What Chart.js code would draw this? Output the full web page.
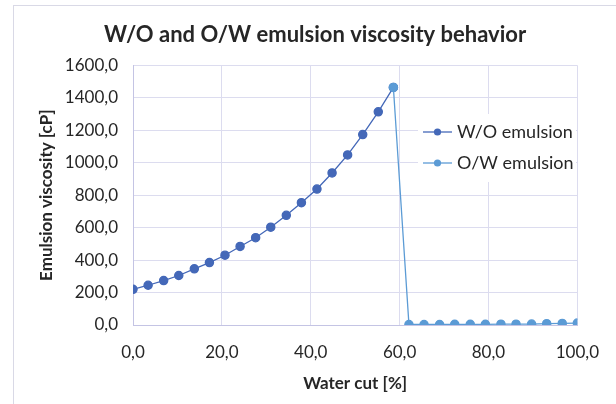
<!DOCTYPE html>
<html>
<head>
<meta charset="utf-8">
<script src="https://cdn.jsdelivr.net/npm/chart.js@4.4.1/dist/chart.umd.min.js"></script>
<style>
  html, body { margin: 0; padding: 0; background: #fff; }
  #wrap { width: 616px; height: 404px; position: relative; }
</style>
</head>
<body>
<div id="wrap"><canvas id="viscChart" width="616" height="404"></canvas></div>
<script>
// Data
const woWaterCut = [0, 3.4, 6.9, 10.3, 13.8, 17.2, 20.7, 24.1, 27.6, 31.0, 34.5, 37.9, 41.4, 44.8, 48.3, 51.7, 55.2, 58.6];
const woViscosity = [220, 245, 274, 305, 346, 385, 430, 484, 538, 603, 676, 754, 838, 937, 1048, 1174, 1314, 1464];
const owWaterCut = [58.6, 62.1, 65.5, 69.0, 72.4, 75.9, 79.3, 82.8, 86.2, 89.7, 93.1, 96.6, 100];
const owViscosity = [1464, 3, 3, 3, 4, 4, 4, 5, 5, 6, 8, 10, 12];
const xTicks = [0, 20, 40, 60, 80, 100];
const yTicks = [0, 200, 400, 600, 800, 1000, 1200, 1400, 1600];

const FONT = 'Lato, "Liberation Sans", sans-serif';
const WO_COLOR = '#4468b8';
const OW_COLOR = '#5b9bd5';

const toPoints = (xs, ys) => xs.map((x, i) => ({ x: x, y: ys[i] }));
const fmt = v => Number(v).toFixed(1).replace('.', ',');

// chart frame + legend laid over the plot (Excel style)
const framePlugin = {
    id: 'frame',
    beforeDraw(chart) {
        const ctx = chart.ctx;
        ctx.save();
        ctx.strokeStyle = '#d9d9e6';
        ctx.lineWidth = 1;
        ctx.strokeRect(13.5, 5.5, 700, 500);
        ctx.restore();
    },
    afterDatasetsDraw(chart) {
        const ctx = chart.ctx;
        ctx.save();
        ctx.fillStyle = '#fff';
        ctx.fillRect(418, 114, 158, 68);
        ctx.font = '18px ' + FONT;
        ctx.textBaseline = 'middle';
        chart.data.datasets.forEach((ds, i) => {
            const y = 132 + i * 31;
            ctx.strokeStyle = ds.borderColor;
            ctx.lineWidth = 1.3;
            ctx.beginPath();
            ctx.moveTo(423, y);
            ctx.lineTo(452, y);
            ctx.stroke();
            ctx.fillStyle = ds.pointBackgroundColor;
            ctx.beginPath();
            ctx.arc(437.5, y, 3.6, 0, Math.PI * 2);
            ctx.fill();
            ctx.fillStyle = '#262626';
            ctx.fillText(ds.label, 457, y);
        });
        ctx.restore();
    }
};

const ctx = document.getElementById('viscChart').getContext('2d');
const viscChart = new Chart(ctx, {
    type: 'scatter',
    data: {
        datasets: [{
            label: 'W/O emulsion',
            data: toPoints(woWaterCut, woViscosity),
            showLine: true,
            borderColor: WO_COLOR,
            backgroundColor: WO_COLOR,
            pointBackgroundColor: WO_COLOR,
            pointBorderColor: WO_COLOR,
            borderWidth: 1.3,
            pointRadius: 4.1,
            order: 2
        }, {
            label: 'O/W emulsion',
            data: toPoints(owWaterCut, owViscosity),
            showLine: true,
            borderColor: OW_COLOR,
            backgroundColor: OW_COLOR,
            pointBackgroundColor: OW_COLOR,
            pointBorderColor: OW_COLOR,
            borderWidth: 1.3,
            pointRadius: 4.1,
            order: 1
        }]
    },
    options: {
        responsive: false,
        animation: false,
        layout: { padding: { left: 14, right: 0, top: 6, bottom: 0 } },
        plugins: {
            legend: { display: false },
            tooltip: { enabled: false },
            title: {
                display: true,
                text: 'W/O and O/W emulsion viscosity behavior',
                color: '#262626',
                font: { family: FONT, size: 22, weight: 'bold' },
                padding: { top: 16, bottom: 17 }
            }
        },
        scales: {
            x: {
                type: 'linear',
                min: 0,
                max: 100,
                afterBuildTicks: scale => { scale.ticks = xTicks.map(v => ({ value: v })); },
                afterFit: scale => { scale.height = 79; },
                grid: { color: '#dcdcef', drawTicks: false },
                border: { color: '#c4c4e4', width: 1 },
                ticks: {
                    padding: 17,
                    color: '#262626',
                    font: { family: FONT, size: 17 },
                    callback: v => fmt(v)
                },
                title: {
                    display: true,
                    text: 'Water cut [%]',
                    color: '#262626',
                    font: { family: FONT, size: 17, weight: 'bold' },
                    padding: { top: 0, bottom: 10 }
                }
            },
            y: {
                min: 0,
                max: 1600,
                afterBuildTicks: scale => { scale.ticks = yTicks.map(v => ({ value: v })); },
                afterFit: scale => { scale.width = 119; },
                grid: { color: '#dcdcef', drawTicks: false },
                border: { color: '#c4c4e4', width: 1 },
                ticks: {
                    padding: 15,
                    color: '#262626',
                    font: { family: FONT, size: 17 },
                    callback: v => fmt(v)
                },
                title: {
                    display: true,
                    text: 'Emulsion viscosity [cP]',
                    color: '#262626',
                    font: { family: FONT, size: 17, weight: 'bold' },
                    padding: { top: 22, bottom: 0 }
                }
            },
            // empty right-hand gutter so the title centres on the whole frame
            gutter: {
                position: 'right',
                min: 0,
                max: 1600,
                grid: { display: false },
                border: { display: false },
                ticks: { display: false },
                afterFit: scale => { scale.width = 36; }
            }
        }
    },
    plugins: [framePlugin]
});
</script>
</body>
</html>
